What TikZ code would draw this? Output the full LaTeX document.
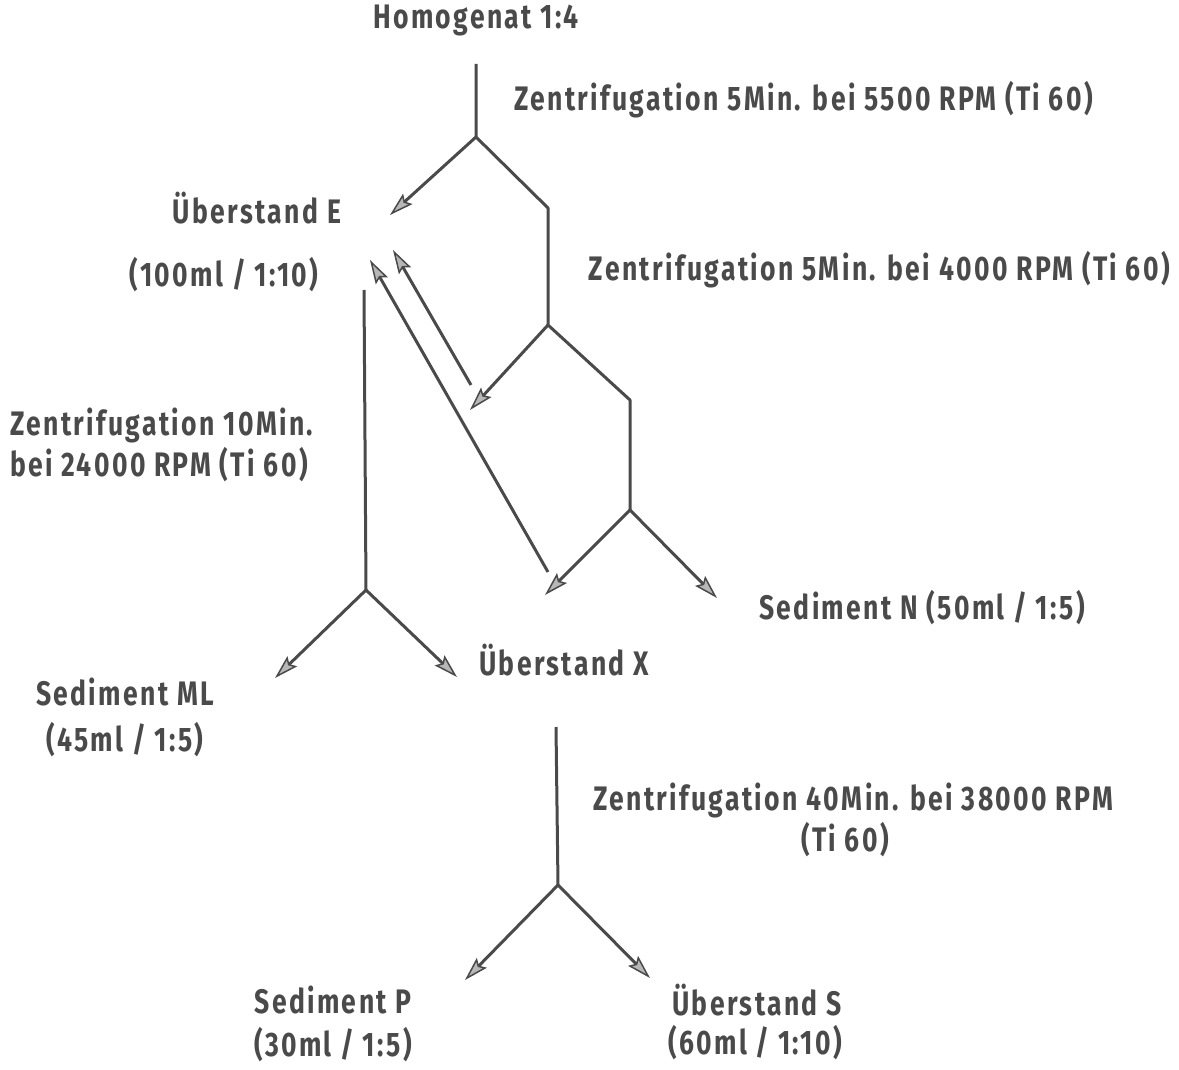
\documentclass[tikz,border=0pt]{standalone}
\usepackage{fontspec}
\setmainfont{Fira Sans}[FakeStretch=0.78,LetterSpace=7]
\usetikzlibrary{arrows.meta}
\definecolor{ink}{HTML}{4A4A4A}
\tikzset{
  lbl/.style={inner sep=0pt, text=ink, font=\fontsize{34}{36}\selectfont\bfseries},
  ln/.style={draw=ink, line width=3pt, line join=round},
  arr/.style={ln, -{Stealth[length=24pt,width=14pt,inset=4pt,fill=ink!40,line width=1.5pt]}}
}
\begin{document}
\begin{tikzpicture}[x=1pt,y=-1pt]
\useasboundingbox (0,0) rectangle (1179,1070);
% labels
\node[lbl] (hom) at (476,20) {Homogenat 1:4};
\node[lbl,anchor=west] (z1) at (514,100) {Zentrifugation 5Min. bei 5500 RPM (Ti 60)};
\node[lbl] (ue) at (257,208) {Überstand E};
\node[lbl] (ue2) at (224,275) {(100ml / 1:10)};
\node[lbl,anchor=east] (z2) at (1170,270) {Zentrifugation 5Min. bei 4000 RPM (Ti 60)};
\node[lbl,anchor=west] (z3a) at (10,425) {Zentrifugation 10Min.};
\node[lbl,anchor=west] (z3b) at (10,465) {bei 24000 RPM (Ti 60)};
\node[lbl] (sn) at (922,608) {Sediment N (50ml / 1:5)};
\node[lbl] (sml) at (125,692) {Sediment ML};
\node[lbl] (sml2) at (125,740) {(45ml / 1:5)};
\node[lbl] (ux) at (564,660) {Überstand X};
\node[lbl,anchor=west] (z4a) at (593,800) {Zentrifugation 40Min. bei 38000 RPM};
\node[lbl] (z4b) at (845,840) {(Ti 60)};
\node[lbl] (sp) at (333,1000) {Sediment P};
\node[lbl] (sp2) at (333,1045) {(30ml / 1:5)};
\node[lbl] (us) at (757,1000) {Überstand S};
\node[lbl] (us2) at (755,1043) {(60ml / 1:10)};
% coordinates
\coordinate (t0) at (476,64);
\coordinate (b1) at (476,137);
\coordinate (eA) at (390,215);
\coordinate (k1) at (548,208);
\coordinate (b2) at (548,325);
\coordinate (a2) at (470,410);
\coordinate (k2) at (630,400);
\coordinate (b3) at (630,510);
\coordinate (a3l) at (545,595);
\coordinate (a3r) at (717,598);
\coordinate (r1s) at (471,385);
\coordinate (r1e) at (393,250);
\coordinate (r2s) at (548,572);
\coordinate (r2e) at (370,260);
\coordinate (e0) at (364,290);
\coordinate (b4) at (366,590);
\coordinate (a4l) at (275,678);
\coordinate (a4r) at (457,677);
\coordinate (x0) at (556,727);
\coordinate (b5) at (558,885);
\coordinate (a5l) at (465,980);
\coordinate (a5r) at (650,978);
% connectors
\draw[ln] (t0) -- (b1) -- (k1) -- (b2) -- (k2) -- (b3);
\draw[arr] (b1) -- (eA);
\draw[arr] (b2) -- (a2);
\draw[arr] (b3) -- (a3l);
\draw[arr] (b3) -- (a3r);
\draw[arr] (r1s) -- (r1e);
\draw[arr] (r2s) -- (r2e);
\draw[ln] (e0) -- (b4);
\draw[arr] (b4) -- (a4l);
\draw[arr] (b4) -- (a4r);
\draw[ln] (x0) -- (b5);
\draw[arr] (b5) -- (a5l);
\draw[arr] (b5) -- (a5r);
\end{tikzpicture}
\end{document}
